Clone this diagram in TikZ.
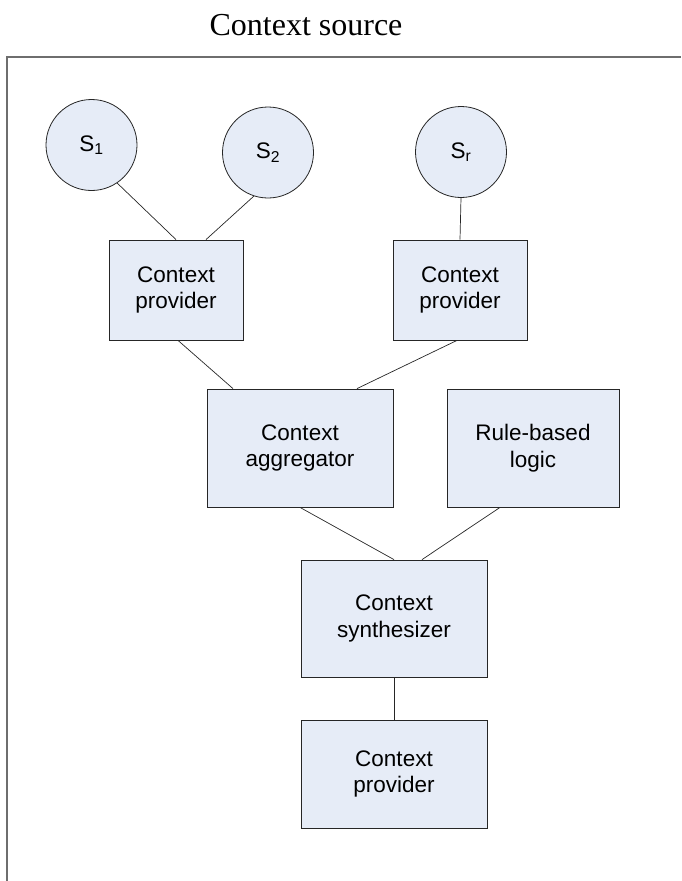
\documentclass[tikz,border=0pt]{standalone}
\usepackage{fontspec}
\setmainfont{Liberation Serif}
\newfontfamily\boxfont{Liberation Sans}
\usetikzlibrary{calc}
\definecolor{boxfill}{HTML}{E6ECF7}
\definecolor{framegray}{HTML}{6E6E6E}
\begin{document}
\begin{tikzpicture}[x=1pt,y=-1pt,
  unit/.style={draw=black!85,line width=0.8pt,fill=boxfill,inner sep=0pt,
    align=center,font=\boxfont\fontsize{22.5}{26.5}\selectfont},
  blockbox/.style={unit,rectangle},
  sensor/.style={unit,circle,minimum size=91pt},
  link/.style={draw=black!85,line width=0.7pt}]
\useasboundingbox (0,0) rectangle (681,881);

% title and frame of the context source
\node[font=\fontsize{32}{32}\selectfont,anchor=base] (title) at (306,35) {Context source};
\draw[framegray,line width=1.4pt] (7,881) -- (7,57) -- (681,57);

% sensors
\node[sensor] (s1) at (91.5,145) {S\textsubscript{1}};
\node[sensor] (s2) at (268,152.5) {S\textsubscript{2}};
\node[sensor] (sr) at (461,152) {S\textsubscript{r}};

% processing blocks
\node[blockbox,minimum width=134pt,minimum height=100pt] (cp1) at (176,290) {Context\\provider};
\node[blockbox,minimum width=134pt,minimum height=100pt] (cp2) at (460,290) {Context\\provider};
\node[blockbox,minimum width=186pt,minimum height=118pt] (agg) at (300,448) {Context\\aggregator};
\node[blockbox,minimum width=172pt,minimum height=118pt] (rule) at (533,448) {Rule-based\\logic};
\node[blockbox,minimum width=186pt,minimum height=117pt] (syn) at (394,618.5) {Context\\synthesizer};
\node[blockbox,minimum width=186pt,minimum height=108pt] (cpo) at (394,774) {Context\\provider};

% connectors
\draw[link] (s1.304) -- (cp1.north);
\draw[link] (s2.252) -- ([xshift=30pt]cp1.north);
\draw[link] (sr.south) -- (cp2.north);
\draw[link] ([xshift=2pt]cp1.south) -- ([xshift=-67pt]agg.north);
\draw[link] ([xshift=-3pt]cp2.south) -- ([xshift=57pt]agg.north);
\draw[link] (agg.south) -- (syn.north);
\draw[link] ([xshift=-33pt]rule.south) -- ([xshift=28pt]syn.north);
\draw[link] (syn.south) -- (cpo.north);
\end{tikzpicture}
\end{document}
